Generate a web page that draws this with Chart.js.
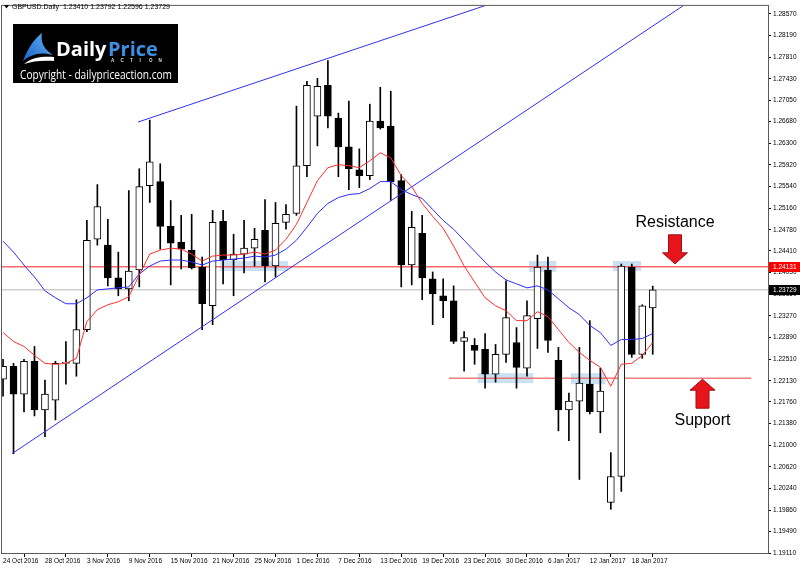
<!DOCTYPE html>
<html>
<head>
<meta charset="utf-8">
<script src="https://cdn.jsdelivr.net/npm/chart.js@4"></script>
<style>
html, body { margin: 0; padding: 0; background: #fff; }
canvas { display: block; }
</style>
</head>
<body>
<canvas id="chart" width="800" height="567"></canvas>
<script>
// GBPUSD daily, 24 Oct 2016 .. 20 Jan 2017 (one entry per bar)
const opens = [1.22159, 1.22386, 1.21898, 1.22473, 1.21619, 1.21793, 1.22438, 1.22438, 1.23030, 1.24615,
  1.24511, 1.23936, 1.23744, 1.24075, 1.25556, 1.25626, 1.24842, 1.24563, 1.24424, 1.24128,
  1.23448, 1.24929, 1.24250, 1.24354, 1.24459, 1.24772, 1.24145, 1.24912, 1.25068, 1.25905,
  1.26776, 1.27316, 1.26741, 1.26236, 1.25835, 1.25730, 1.26688, 1.26601, 1.25643, 1.24163,
  1.24720, 1.23919, 1.23623, 1.23535, 1.22821, 1.22752, 1.22682, 1.22246, 1.22595, 1.22804,
  1.22351, 1.23222, 1.24075, 1.22490, 1.21619, 1.21776, 1.22072, 1.21584, 1.19999, 1.20452,
  1.24128, 1.22595, 1.23410]
const highs = [1.22508, 1.22438, 1.22508, 1.22734, 1.22142, 1.22473, 1.22821, 1.23553, 1.24946, 1.25574,
  1.24964, 1.24389, 1.25469, 1.25852, 1.26706, 1.25939, 1.25295, 1.25034, 1.25051, 1.24302,
  1.25121, 1.25121, 1.24703, 1.24946, 1.24807, 1.25312, 1.25260, 1.25225, 1.26950, 1.27385,
  1.27437, 1.27751, 1.26828, 1.27037, 1.26201, 1.26985, 1.27281, 1.27211, 1.25748, 1.25103,
  1.25034, 1.24041, 1.23919, 1.23797, 1.22995, 1.22873, 1.22961, 1.22769, 1.23884, 1.23065,
  1.23535, 1.24337, 1.24302, 1.22717, 1.21915, 1.22717, 1.23187, 1.22351, 1.20870, 1.24180,
  1.24180, 1.23466, 1.23792]
const lows = [1.21863, 1.20853, 1.21584, 1.21515, 1.21149, 1.21445, 1.22072, 1.22211, 1.22995, 1.24511,
  1.23797, 1.23623, 1.23535, 1.23779, 1.25260, 1.24441, 1.23814, 1.24093, 1.24093, 1.23030,
  1.23117, 1.23832, 1.23623, 1.24023, 1.24145, 1.23866, 1.23953, 1.24790, 1.25034, 1.25713,
  1.26253, 1.26566, 1.25713, 1.25486, 1.25521, 1.25661, 1.26549, 1.25295, 1.23779, 1.23814,
  1.23553, 1.23117, 1.23239, 1.22786, 1.22299, 1.22421, 1.22002, 1.22107, 1.22455, 1.22002,
  1.22211, 1.22699, 1.22630, 1.21253, 1.21079, 1.20400, 1.21550, 1.21219, 1.19877, 1.20191,
  1.22542, 1.22525, 1.22596]
const closes = [1.22386, 1.21898, 1.22473, 1.21619, 1.21898, 1.22438, 1.22455, 1.23030, 1.24598, 1.25190,
  1.23936, 1.23744, 1.24058, 1.25539, 1.25974, 1.24842, 1.24546, 1.24441, 1.24110, 1.23483,
  1.24912, 1.24250, 1.24354, 1.24459, 1.24615, 1.24145, 1.24894, 1.25051, 1.25905, 1.27316,
  1.27298, 1.26776, 1.26236, 1.25852, 1.25730, 1.26688, 1.26566, 1.25626, 1.24163, 1.24824,
  1.23936, 1.23657, 1.23535, 1.22821, 1.22891, 1.22664, 1.22246, 1.22595, 1.23239, 1.22368,
  1.23274, 1.24128, 1.22839, 1.21619, 1.21776, 1.22090, 1.21584, 1.21950, 1.20452, 1.24145,
  1.22595, 1.23448, 1.23729]

// the two moving averages
const fastMA = [1.22978, 1.22821, 1.22734, 1.22577, 1.22438, 1.22421, 1.22438, 1.22525, 1.23170, 1.23379,
  1.23466, 1.23518, 1.23605, 1.23988, 1.24354, 1.24424, 1.24459, 1.24441, 1.24354, 1.24232,
  1.24319, 1.24337, 1.24337, 1.24354, 1.24389, 1.24354, 1.24424, 1.24615, 1.24877, 1.25260,
  1.25643, 1.25870, 1.25922, 1.25905, 1.25870, 1.25992, 1.26131, 1.26044, 1.25730, 1.25539,
  1.25243, 1.25016, 1.24807, 1.24494, 1.24145, 1.23866, 1.23588, 1.23448, 1.23361, 1.23187,
  1.23187, 1.23344, 1.23257, 1.23030, 1.22804, 1.22630, 1.22490, 1.22368, 1.22037, 1.22421,
  1.22438, 1.22577, 1.22804]
const slowMA = [1.24581, 1.24389, 1.24163, 1.23953, 1.23710, 1.23588, 1.23483, 1.23483, 1.23588, 1.23727,
  1.23744, 1.23762, 1.23779, 1.24006, 1.24145, 1.24232, 1.24250, 1.24250, 1.24215, 1.24163,
  1.24232, 1.24250, 1.24267, 1.24284, 1.24319, 1.24302, 1.24337, 1.24441, 1.24598, 1.24824,
  1.25068, 1.25243, 1.25347, 1.25399, 1.25417, 1.25504, 1.25626, 1.25626, 1.25486, 1.25399,
  1.25330, 1.25138, 1.24946, 1.24790, 1.24598, 1.24406, 1.24215, 1.24041, 1.23901, 1.23832,
  1.23762, 1.23797, 1.23727, 1.23570, 1.23413, 1.23292, 1.23100, 1.22978, 1.22752, 1.22856,
  1.22856, 1.22873, 1.22961]

// axis labels
const dateTicks = [0, 4, 8, 12, 16, 20, 24, 28, 32, 36, 40, 44, 48, 52, 56, 60]
const dateLabels = ['24 Oct 2016', '28 Oct 2016', '3 Nov 2016', '9 Nov 2016', '15 Nov 2016', '21 Nov 2016',
  '25 Nov 2016', '1 Dec 2016', '7 Dec 2016', '13 Dec 2016', '19 Dec 2016', '23 Dec 2016',
  '30 Dec 2016', '6 Jan 2017', '12 Jan 2017', '18 Jan 2017']
const priceTicks = [1.28570, 1.28190, 1.27810, 1.27430, 1.27050, 1.26680, 1.26300, 1.25920, 1.25540,
  1.25160, 1.24780, 1.24410, 1.24030, 1.23650, 1.23270, 1.22890, 1.22510, 1.22130, 1.21760,
  1.21380, 1.21000, 1.20620, 1.20240, 1.19860, 1.19490, 1.19110]

// drawn objects (bar index, price)
const resistance = 1.24131
const support = 1.22177
const supportSpan = [42.55, 71.4]
const upperTrend = [[12.88, 1.26671], [50, 1.28961]]
const lowerTrend = [[0.85, 1.20853], [72, 1.29583]]
const zones = [
  [20.7, 27.2, 1.24232, 1.24058],
  [50.2, 52.8, 1.24232, 1.24041],
  [45.3, 50.6, 1.22264, 1.22090],
  [54.2, 57.5, 1.22264, 1.22072],
  [58.2, 60.9, 1.24232, 1.24058]
]

const last = closes.length - 1
const FONT = '"Liberation Sans", Arial, sans-serif'

const overlay = {
	id: 'overlay',
	beforeDatasetsDraw(chart) {
		const { ctx, scales: { x, y } } = chart
		ctx.save()
		ctx.fillStyle = 'rgba(165, 205, 235, 0.6)'
		zones.forEach(([x0, x1, p0, p1]) => {
			const l = x.getPixelForValue(x0), r = x.getPixelForValue(x1)
			const t = y.getPixelForValue(p0), b = y.getPixelForValue(p1)
			ctx.fillRect(l, t, r - l, b - t)
		})
		ctx.restore()
	},
	afterDraw(chart) {
		const { ctx, chartArea: a, scales: { y } } = chart
		ctx.save()

		// frame
		ctx.strokeStyle = '#5a5a5a'
		ctx.lineWidth = 1
		ctx.strokeRect(a.left - 0.5, a.top - 0.5, a.right - a.left + 1, a.bottom - a.top + 1)

		// price tags on the axis
		const tag = (price, bg) => {
			const py = Math.round(y.getPixelForValue(price))
			ctx.fillStyle = bg
			ctx.fillRect(a.right + 1, py - 5, 800 - a.right - 1, 10)
			ctx.fillStyle = '#fff'
			ctx.font = '6.5px ' + FONT
			ctx.textBaseline = 'middle'
			ctx.textAlign = 'left'
			ctx.fillText(price.toFixed(5), a.right + 5, py + 0.5)
		}
		tag(resistance, '#ff0000')
		tag(closes[last], '#000000')

		// symbol line
		ctx.fillStyle = '#000'
		ctx.beginPath()
		ctx.moveTo(4, 5); ctx.lineTo(9, 5); ctx.lineTo(6.5, 8.5); ctx.closePath()
		ctx.fill()
		ctx.font = '7px ' + FONT
		ctx.textBaseline = 'middle'
		ctx.fillText('GBPUSD.Daily  ' + [opens[last], highs[last], lows[last], closes[last]].map(v => v.toFixed(5)).join(' '), 12, 7)

		// logo
		ctx.fillStyle = '#000'
		ctx.fillRect(13, 24, 165, 59)
		const g = ctx.createLinearGradient(22, 60, 50, 34)
		g.addColorStop(0, '#1a5fc4')
		g.addColorStop(1, '#5fb0f5')
		ctx.fillStyle = g
		ctx.beginPath()
		ctx.moveTo(23, 61)
		ctx.bezierCurveTo(27, 50, 33, 40, 42, 33)
		ctx.bezierCurveTo(40, 43, 45, 50, 53, 55)
		ctx.bezierCurveTo(40, 51, 30, 55, 23, 61)
		ctx.fill()
		ctx.fillStyle = '#fff'
		ctx.beginPath()
		ctx.moveTo(24, 64)
		ctx.bezierCurveTo(32, 57, 44, 56, 54, 57)
		ctx.lineTo(54, 61)
		ctx.bezierCurveTo(44, 60, 32, 61, 24, 64)
		ctx.fill()
		ctx.textBaseline = 'alphabetic'
		ctx.font = 'bold 20px "Open Sans", ' + FONT
		ctx.fillStyle = '#fff'
		ctx.fillText('Daily', 56, 56, 52)
		ctx.fillStyle = '#3d8fe3'
		ctx.fillText('Price', 108, 56, 56)
		ctx.font = 'bold 4.5px ' + FONT
		ctx.fillStyle = '#ddd'
		'ACTION'.split('').forEach((c, i) => ctx.fillText(c, 111 + i * 9.5, 62))
		ctx.fillStyle = '#fff'
		ctx.font = '12px "Open Sans", ' + FONT
		ctx.fillText('Copyright - dailypriceaction.com', 20, 79, 152)

		// annotations
		const ry = y.getPixelForValue(resistance)
		const sy = y.getPixelForValue(support)
		const arrow = (cx, tip, dir) => {
			// dir = 1 points down, -1 points up
			const head = 11, len = 29
			ctx.beginPath()
			ctx.moveTo(cx, tip)
			ctx.lineTo(cx - 12.5, tip - dir * head)
			ctx.lineTo(cx - 6.5, tip - dir * head)
			ctx.lineTo(cx - 6.5, tip - dir * len)
			ctx.lineTo(cx + 6.5, tip - dir * len)
			ctx.lineTo(cx + 6.5, tip - dir * head)
			ctx.lineTo(cx + 12.5, tip - dir * head)
			ctx.closePath()
			ctx.fillStyle = '#e8141b'
			ctx.fill()
			ctx.strokeStyle = '#a00d12'
			ctx.lineWidth = 1
			ctx.stroke()
		}
		arrow(675, ry - 3, 1)
		arrow(702.5, sy + 1, -1)
		ctx.fillStyle = '#000'
		ctx.font = '16px ' + FONT
		ctx.textAlign = 'center'
		ctx.textBaseline = 'alphabetic'
		ctx.fillText('Resistance', 675, ry - 40)
		ctx.fillText('Support', 702.5, sy + 47)
		ctx.restore()
	}
}

const pts = arr => arr.map((v, i) => ({ x: i, y: v }))

new Chart(document.getElementById('chart'), {
	type: 'bar',
	data: {
		datasets: [
			{
				type: 'line', data: pts(fastMA), borderColor: '#ff2d2d', borderWidth: 1,
				pointRadius: 0, order: -3, clip: 0
			},
			{
				type: 'line', data: pts(slowMA), borderColor: '#2d2dff', borderWidth: 1,
				pointRadius: 0, order: -2, clip: 0
			},
			{
				type: 'line', data: upperTrend.map(([x, y]) => ({ x, y })), borderColor: '#3030f0',
				borderWidth: 1, pointRadius: 0, order: -1, clip: 0
			},
			{
				type: 'line', data: lowerTrend.map(([x, y]) => ({ x, y })), borderColor: '#3030f0',
				borderWidth: 1, pointRadius: 0, order: -1, clip: 0
			},
			{
				// candle bodies
				data: opens.map((o, i) => ({ x: i, y: [o, closes[i]] })),
				backgroundColor: opens.map((o, i) => closes[i] >= o ? '#ffffff' : '#000000'),
				borderColor: '#000', borderWidth: 1, borderSkipped: false,
				barThickness: 7, grouped: false, order: 0, clip: 0
			},
			{
				// wicks
				data: lows.map((l, i) => ({ x: i, y: [l, highs[i]] })),
				backgroundColor: '#000', borderWidth: 0,
				barThickness: 1, grouped: false, order: 1, clip: 0
			},
			{
				type: 'line', data: [{ x: -2, y: resistance }, { x: 80, y: resistance }],
				borderColor: 'rgba(255, 80, 80, 0.85)', borderWidth: 1.5, pointRadius: 0, order: 2, clip: 0
			},
			{
				type: 'line', data: supportSpan.map(x => ({ x, y: support })),
				borderColor: 'rgba(240, 90, 90, 0.8)', borderWidth: 1.5, pointRadius: 0, order: 2, clip: 0
			},
			{
				type: 'line', data: [{ x: -2, y: closes[last] }, { x: 80, y: closes[last] }],
				borderColor: '#cfcfcf', borderWidth: 1.5, pointRadius: 0, order: 3, clip: 0
			}
		]
	},
	options: {
		responsive: false,
		animation: false,
		devicePixelRatio: 1,
		layout: { padding: { left: 2, top: 2, right: 0, bottom: 0 } },
		plugins: { legend: { display: false }, tooltip: { enabled: false } },
		scales: {
			x: {
				type: 'linear', min: -0.1, max: 73, offset: false,
				afterBuildTicks: s => { s.ticks = dateTicks.map(v => ({ value: v })) },
				afterFit: s => { s.height = 14 },
				ticks: {
					callback: (v, i) => dateLabels[i], align: 'start', autoSkip: false,
					maxRotation: 0, minRotation: 0, padding: 0,
					color: '#000', font: { size: 6.5, family: FONT }
				},
				grid: { drawOnChartArea: false, tickLength: 4, color: '#000' },
				border: { color: '#5a5a5a' }
			},
			y: {
				position: 'right', min: 1.19110, max: 1.28709,
				afterBuildTicks: s => { s.ticks = priceTicks.map(v => ({ value: v })) },
				afterFit: s => { s.width = 32 },
				ticks: {
					callback: v => v.toFixed(5), padding: 2, autoSkip: false,
					color: '#000', font: { size: 6.5, family: FONT }
				},
				grid: { drawOnChartArea: false, tickLength: 3, color: '#000' },
				border: { color: '#5a5a5a' }
			}
		}
	},
	plugins: [overlay]
})
</script>
</body>
</html>
